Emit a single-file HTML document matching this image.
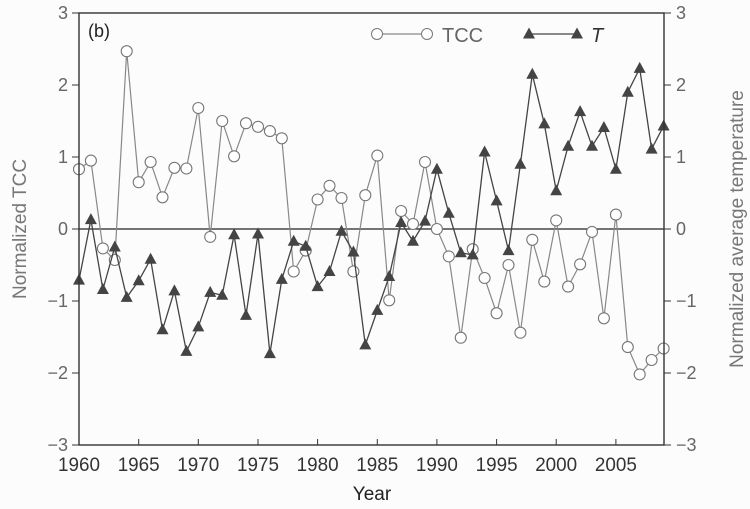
<!DOCTYPE html>
<html><head><meta charset="utf-8"><style>
html,body{margin:0;padding:0;background:#fcfcfc;}
svg{display:block;font-family:"Liberation Sans",sans-serif;}
</style></head><body>
<svg width="750" height="509" viewBox="0 0 750 509" xmlns="http://www.w3.org/2000/svg">
<defs>
<marker id="mc" viewBox="-7 -7 14 14" markerWidth="14" markerHeight="14" markerUnits="userSpaceOnUse" refX="0" refY="0"><circle r="5.5" fill="#fff" stroke="#777" stroke-width="1.1"/></marker>
<marker id="mt" viewBox="-7 -7 14 14" markerWidth="14" markerHeight="14" markerUnits="userSpaceOnUse" refX="0" refY="0"><polygon points="0,-6.5 -6,4.5 6,4.5" fill="#444"/></marker>
</defs>
<rect width="750" height="509" fill="#fcfcfc"/>
<line x1="79" y1="229" x2="664" y2="229" stroke="#222" stroke-width="1.3"/>
<polyline fill="none" stroke="#888" stroke-width="1.2" marker-start="url(#mc)" marker-mid="url(#mc)" marker-end="url(#mc)" points="79.0,169.2 90.9,160.6 102.9,248.4 114.8,260.0 126.7,51.2 138.7,182.2 150.6,162.0 162.5,197.3 174.4,167.8 186.4,168.5 198.3,108.0 210.2,236.9 222.2,121.0 234.1,156.3 246.0,123.2 258.0,126.8 269.9,131.1 281.8,138.3 293.7,271.5 305.7,250.6 317.6,199.5 329.5,185.8 341.5,198.0 353.4,271.5 365.3,195.2 377.3,155.6 389.2,300.3 401.1,211.0 413.0,224.0 425.0,162.0 436.9,229.0 448.8,256.4 460.8,337.7 472.7,249.2 484.6,278.0 496.6,313.2 508.5,265.0 520.4,332.7 532.3,239.8 544.3,281.6 556.2,220.4 568.1,286.6 580.1,264.3 592.0,231.9 603.9,318.3 615.9,214.6 627.8,347.1 639.7,374.4 651.6,360.0 663.6,348.5"/>
<polyline fill="none" stroke="#444" stroke-width="1.3" marker-start="url(#mt)" marker-mid="url(#mt)" marker-end="url(#mt)" points="79.0,280.1 90.9,219.6 102.9,289.5 114.8,247.0 126.7,297.4 138.7,280.8 150.6,259.2 162.5,329.8 174.4,290.9 186.4,351.4 198.3,326.9 210.2,292.4 222.2,295.2 234.1,234.8 246.0,315.4 258.0,234.0 269.9,353.6 281.8,279.4 293.7,241.2 305.7,246.3 317.6,286.6 329.5,271.5 341.5,231.2 353.4,252.0 365.3,344.9 377.3,310.4 389.2,276.5 401.1,222.5 413.0,241.2 425.0,221.1 436.9,169.2 448.8,213.2 460.8,252.8 472.7,254.9 484.6,152.0 496.6,200.9 508.5,250.6 520.4,164.2 532.3,74.2 544.3,123.9 556.2,190.8 568.1,146.2 580.1,111.6 592.0,146.2 603.9,127.5 615.9,169.2 627.8,92.2 639.7,68.4 651.6,149.1 663.6,126.0"/>
<rect x="79" y="13" width="585" height="432" fill="none" stroke="#333" stroke-width="1.4"/>
<g stroke="#333">
<line x1="72" y1="13" x2="79" y2="13"/><line x1="72" y1="85" x2="79" y2="85"/><line x1="72" y1="157" x2="79" y2="157"/><line x1="72" y1="229" x2="79" y2="229"/><line x1="72" y1="301" x2="79" y2="301"/><line x1="72" y1="373" x2="79" y2="373"/><line x1="72" y1="445" x2="79" y2="445"/>
<line x1="664" y1="13" x2="671" y2="13"/><line x1="664" y1="85" x2="671" y2="85"/><line x1="664" y1="157" x2="671" y2="157"/><line x1="664" y1="229" x2="671" y2="229"/><line x1="664" y1="301" x2="671" y2="301"/><line x1="664" y1="373" x2="671" y2="373"/><line x1="664" y1="445" x2="671" y2="445"/>
<line x1="79" y1="445" x2="79" y2="439"/><line x1="138.7" y1="445" x2="138.7" y2="439"/><line x1="198.3" y1="445" x2="198.3" y2="439"/><line x1="258" y1="445" x2="258" y2="439"/><line x1="317.6" y1="445" x2="317.6" y2="439"/><line x1="377.3" y1="445" x2="377.3" y2="439"/><line x1="436.9" y1="445" x2="436.9" y2="439"/><line x1="496.6" y1="445" x2="496.6" y2="439"/><line x1="556.2" y1="445" x2="556.2" y2="439"/><line x1="615.9" y1="445" x2="615.9" y2="439"/>
</g>
<g font-size="18" fill="#666" text-anchor="end">
<text x="68" y="19">3</text><text x="68" y="91">2</text><text x="68" y="163">1</text><text x="68" y="235">0</text><text x="68" y="307">−1</text><text x="68" y="379">−2</text><text x="68" y="451">−3</text>
</g>
<g font-size="18" fill="#666">
<text x="676" y="19">3</text><text x="676" y="91">2</text><text x="676" y="163">1</text><text x="676" y="235">0</text><text x="676" y="307">−1</text><text x="676" y="379">−2</text><text x="676" y="451">−3</text>
</g>
<g font-size="19" fill="#333" text-anchor="middle">
<text x="79" y="471" textLength="42" lengthAdjust="spacingAndGlyphs">1960</text>
<text x="138.7" y="471" textLength="42" lengthAdjust="spacingAndGlyphs">1965</text>
<text x="198.3" y="471" textLength="42" lengthAdjust="spacingAndGlyphs">1970</text>
<text x="258" y="471" textLength="42" lengthAdjust="spacingAndGlyphs">1975</text>
<text x="317.6" y="471" textLength="42" lengthAdjust="spacingAndGlyphs">1980</text>
<text x="377.3" y="471" textLength="42" lengthAdjust="spacingAndGlyphs">1985</text>
<text x="436.9" y="471" textLength="42" lengthAdjust="spacingAndGlyphs">1990</text>
<text x="496.6" y="471" textLength="42" lengthAdjust="spacingAndGlyphs">1995</text>
<text x="556.2" y="471" textLength="42" lengthAdjust="spacingAndGlyphs">2000</text>
<text x="615.9" y="471" textLength="42" lengthAdjust="spacingAndGlyphs">2005</text>
</g>
<text x="372" y="500" text-anchor="middle" font-size="19" fill="#222">Year</text>
<text transform="translate(26,229) rotate(-90)" text-anchor="middle" font-size="19" fill="#777">Normalized TCC</text>
<text transform="translate(743,229) rotate(-90)" text-anchor="middle" font-size="19" fill="#777">Normalized average temperature</text>
<text x="88" y="37" font-size="18" fill="#222">(b)</text>
<line x1="377" y1="34" x2="427" y2="34" stroke="#888" stroke-width="1.2"/>
<circle cx="377" cy="34" r="5.5" fill="#fff" stroke="#777"/><circle cx="427" cy="34" r="5.5" fill="#fff" stroke="#777"/>
<text x="442" y="42" font-size="20" fill="#666">TCC</text>
<line x1="529" y1="34" x2="577" y2="34" stroke="#444" stroke-width="1.3"/>
<polygon points="529,27.5 523,38.5 535,38.5" fill="#444"/>
<polygon points="577,27.5 571,38.5 583,38.5" fill="#444"/>
<text x="591" y="42" font-size="20" font-style="italic" fill="#333">T</text>
</svg>
</body></html>
